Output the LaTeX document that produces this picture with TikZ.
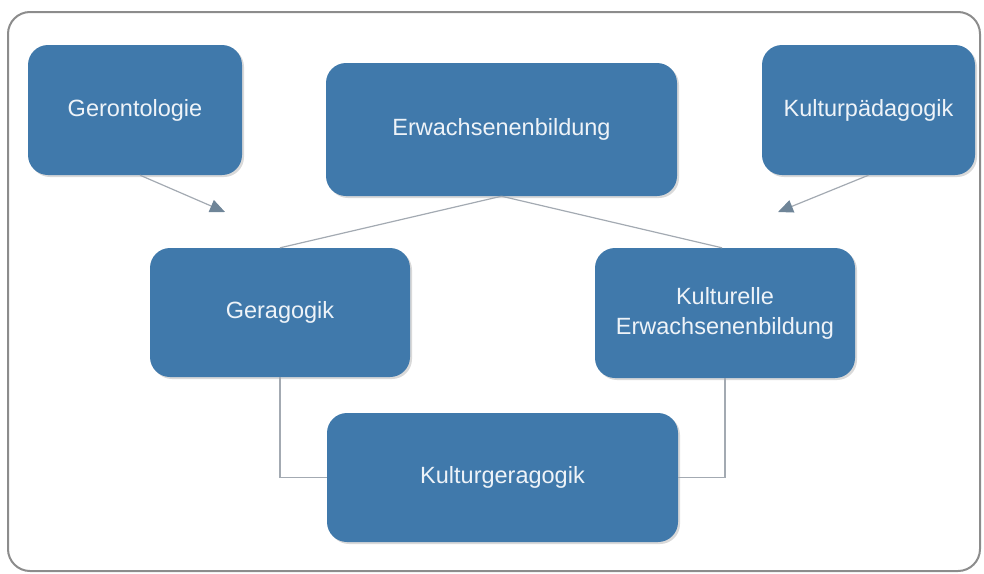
\documentclass[tikz,border=0pt]{standalone}
\usepackage{fontspec}
\setmainfont{Liberation Sans}
\usetikzlibrary{arrows.meta,shadows}
\definecolor{boxblue}{HTML}{4079AB}
\definecolor{boxtext}{HTML}{EEF3F8}
\definecolor{linegray}{HTML}{A3AAB2}
\definecolor{arrowgray}{HTML}{6F8598}
\definecolor{framegray}{HTML}{8C8C8C}
\begin{document}
\begin{tikzpicture}[x=1pt,y=-1pt,
  box/.style={draw=none, fill=boxblue, rounded corners=20pt, text=boxtext,
    font=\fontsize{23.5}{30}\selectfont, align=center, inner sep=0pt,
    drop shadow={shadow xshift=2pt, shadow yshift=-2pt, opacity=0.25, fill=black!60}},
  conn/.style={draw=linegray, line width=1.2pt},
  arr/.style={draw=linegray, line width=1.2pt, -{Triangle[length=15pt,width=13pt,color=arrowgray,fill=arrowgray]}}
]
\useasboundingbox (0,0) rectangle (984,573);
\draw[framegray, line width=2pt, rounded corners=22pt] (8,12) rectangle (980,571);
\node[box, minimum width=214pt, minimum height=130pt] (ger) at (135,110) {Gerontologie};
\node[box, minimum width=351pt, minimum height=133pt] (erw) at (501.5,129.5) {Erwachsenenbildung};
\node[box, minimum width=213pt, minimum height=130pt] (kp) at (868.5,110) {Kulturpädagogik};
\node[box, minimum width=260pt, minimum height=129pt] (gera) at (280,312.5) {Geragogik};
\node[box, minimum width=260pt, minimum height=130pt] (ke) at (725,313) {Kulturelle\\Erwachsenenbildung};
\node[box, minimum width=351pt, minimum height=129pt] (kg) at (502.5,477.5) {Kulturgeragogik};
\coordinate (t1) at (225,212);
\coordinate (t2) at (778,212);
\draw[arr] ([xshift=5pt]ger.south) -- (t1);
\draw[arr] (kp.south) -- (t2);
\draw[conn] (erw.south) -- (gera.north);
\draw[conn] (erw.south) -- ([xshift=-3pt]ke.north);
\draw[conn] (gera.south) |- (kg.west);
\draw[conn] (ke.south) |- (kg.east);
\end{tikzpicture}
\end{document}
